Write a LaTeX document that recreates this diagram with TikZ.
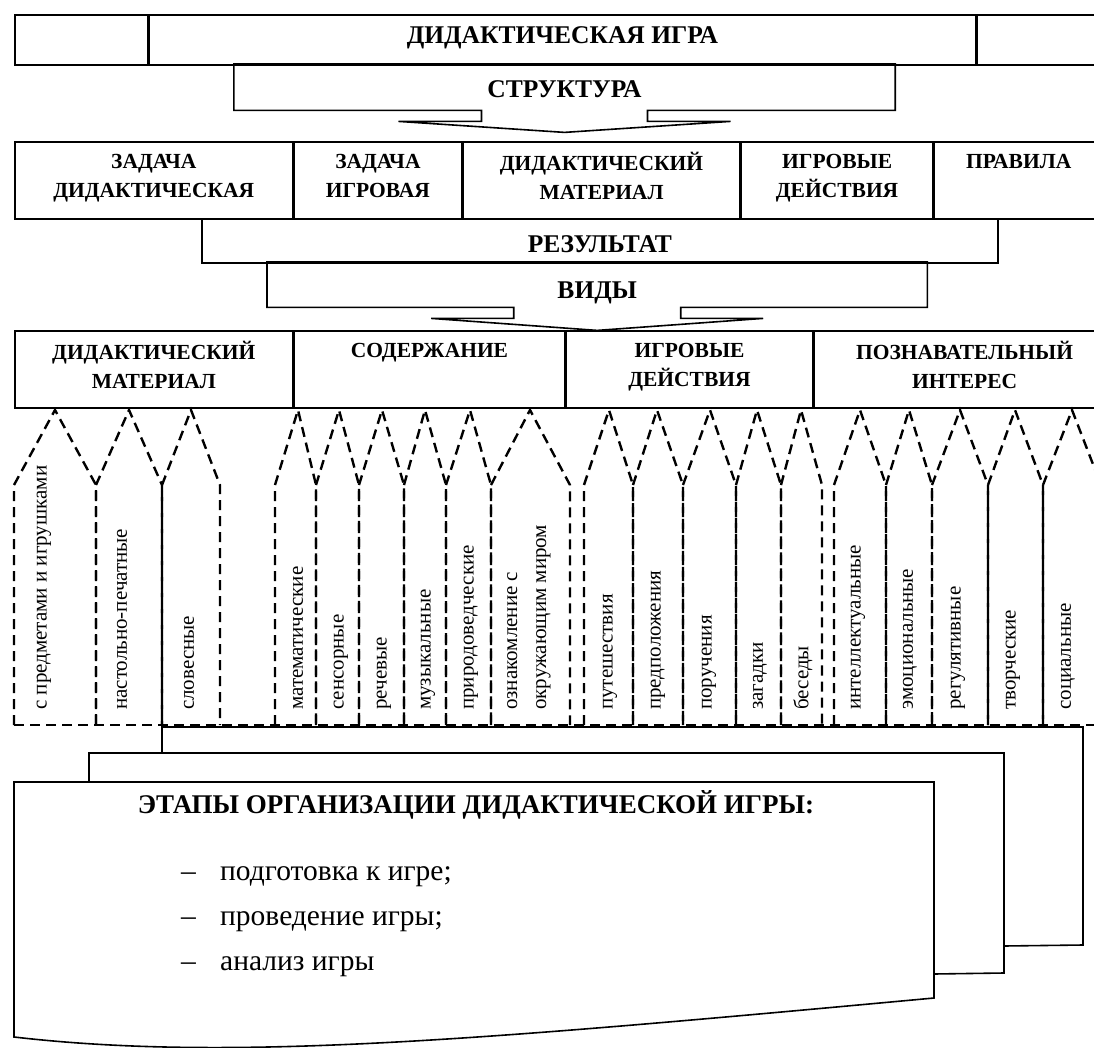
\documentclass[tikz,border=0pt]{standalone}
\usepackage{fontspec}
\setmainfont{Liberation Serif}
\usetikzlibrary{positioning,calc}

\begin{document}
\begin{tikzpicture}[x = 1pt, y = -1pt, line join = miter,
                    frame/.style  = {draw, line width = 1.6pt},
                    top/.style    = {rectangle,
                                     draw,
                                     line width = 1.6pt,
                                     inner sep = 0pt,
                                     minimum height = 50pt,
                                     text height = 8pt,
                                     text depth = 0pt,
                                     font = \fontsize{25.5}{29}\selectfont\bfseries},
                    head/.style   = {rectangle,
                                     inner sep = 0pt,
                                     text depth = 0pt,
                                     font = \fontsize{25.5}{29}\selectfont\bfseries},
                    cell/.style   = {rectangle,
                                     draw,
                                     line width = 1.6pt,
                                     inner sep = 0pt,
                                     minimum height = 77pt,
                                     align = center,
                                     execute at begin node = \strut,
                                     execute at end node = \strut,
                                     font = \fontsize{21.5}{29}\selectfont\bfseries},
                    pencil/.style = {draw, line width = 2.4pt,
                                     dash pattern = on 10pt off 6pt},
                    kind/.style   = {rotate = 90, anchor = west,
                                     inner sep = 0pt, align = left,
                                     font = \fontsize{21}{29}\selectfont},
                    sheet/.style  = {draw, fill = white, line width = 1.6pt},
                    stage/.style  = {anchor = base west, inner sep = 0pt,
                                     font = \fontsize{29.5}{34}\selectfont}]

\useasboundingbox (0,0) rectangle (1094,1048);
\clip (0,0) rectangle (1094,1048);

\node[top, minimum width = 133pt, anchor = north west] (game-l) at (14,14) {};
\node[top, minimum width = 826pt, right = 0pt of game-l] (game) {ДИДАКТИЧЕСКАЯ ИГРА};
\node[top, minimum width = 133pt, right = 0pt of game] (game-r) {};

\node[head, minimum width = 661pt, minimum height = 46pt, text height = 20pt,
      anchor = north] (struct) at (564.5,64) {СТРУКТУРА};
\draw[frame] ($(struct.south)+(-83,0)$) -- (struct.south west) -- (struct.north west)
      -- (struct.north east) -- (struct.south east) -- ($(struct.south)+(83,0)$)
      -- ++(0,11) -- ++(83,0) -- ($(struct.south)+(0,22)$) -- ++(-166,-11)
      -- ++(83,0) -- cycle;

\node[cell, minimum width = 278pt, anchor = north west] (task-d) at (14,141) {ЗАДАЧА\\ДИДАКТИЧЕСКАЯ};
\node[cell, minimum width = 167pt, right = 0pt of task-d] (task-g) {ЗАДАЧА\\ИГРОВАЯ};
\node[cell, minimum width = 277pt, right = 0pt of task-g] (mat) {ДИДАКТИЧЕСКИЙ\\МАТЕРИАЛ};
\node[cell, minimum width = 191pt, right = 0pt of mat] (act) {ИГРОВЫЕ\\ДЕЙСТВИЯ};
\node[cell, minimum width = 169pt, right = 0pt of act] (rules) {ПРАВИЛА\\\mbox{}};

\node[head, draw, line width = 1.6pt, minimum width = 796pt, minimum height = 44pt,
      text height = 24pt, anchor = north west] (result) at (201,218) {РЕЗУЛЬТАТ};

\node[head, minimum width = 660pt, minimum height = 45pt, text height = 27pt,
      anchor = north west] (kinds) at (267,262) {ВИДЫ};
\draw[frame] ($(kinds.south)+(-83.5,0)$) -- (kinds.south west) -- (kinds.north west)
      -- (kinds.north east) -- (kinds.south east) -- ($(kinds.south)+(83.5,0)$)
      -- ++(0,11) -- ++(82.5,0) -- ($(kinds.south)+(0,23)$) -- ++(-166,-12)
      -- ++(82.5,0) -- cycle;

\node[cell, minimum width = 278pt, anchor = north west] (v-mat) at (14,330) {ДИДАКТИЧЕСКИЙ\\МАТЕРИАЛ};
\node[cell, minimum width = 270pt, right = 0pt of v-mat] (v-cont) {СОДЕРЖАНИЕ\\\mbox{}};
\node[cell, minimum width = 247pt, right = 0pt of v-cont] (v-act) {ИГРОВЫЕ\\ДЕЙСТВИЯ};
\node[cell, minimum width = 300pt, right = 0pt of v-act] (v-int) {ПОЗНАВАТЕЛЬНЫЙ\\ИНТЕРЕС};

\draw[sheet] (162,760) -- (162,727) -- (1083,727) -- (1083,945) -- (1004,946);
\draw[sheet] (89,974) -- (89,753) -- (1004,753) -- (1004,973) -- (934,974);
\draw[sheet] (14,782) -- (934,782) -- (934,998)
      .. controls (480,1040) and (230,1062) .. (14,1037) -- cycle;

\draw[pencil] (14,725) -- (14,485) -- (55,410) -- (96,485) -- (96,725);
\draw[pencil] (96,725) -- (96,485) -- (129,410) -- (162,485) -- (162,725);
\draw[pencil] (162,725) -- (162,485) -- (191,410) -- (220,485) -- (220,725);

\draw[pencil] (275,725) -- (275,485) -- (298,410) -- (316,485) -- (316,725);
\draw[pencil] (316,725) -- (316,485) -- (339,410) -- (359,485) -- (359,725);
\draw[pencil] (359,725) -- (359,485) -- (382,410) -- (404,485) -- (404,725);
\draw[pencil] (404,725) -- (404,485) -- (425,410) -- (446,485) -- (446,725);
\draw[pencil] (446,725) -- (446,485) -- (470,410) -- (491,485) -- (491,725);
\draw[pencil] (491,725) -- (491,485) -- (530,410) -- (570,485) -- (570,725);

\draw[pencil] (584,725) -- (584,485) -- (609,410) -- (633,485) -- (633,725);
\draw[pencil] (633,725) -- (633,485) -- (657,410) -- (683,485) -- (683,725);
\draw[pencil] (683,725) -- (683,485) -- (710,410) -- (736,485) -- (736,725);
\draw[pencil] (736,725) -- (736,485) -- (757,410) -- (781,485) -- (781,725);
\draw[pencil] (781,725) -- (781,485) -- (801,410) -- (822,485) -- (822,725);

\draw[pencil] (834,725) -- (834,485) -- (860,410) -- (886,485) -- (886,725);
\draw[pencil] (886,725) -- (886,485) -- (909,410) -- (932,485) -- (932,725);
\draw[pencil] (932,725) -- (932,485) -- (960,410) -- (988,485) -- (988,725);
\draw[pencil] (988,725) -- (988,485) -- (1015,410) -- (1043,485) -- (1043,725);
\draw[pencil] (1043,725) -- (1043,485) -- (1072,410) -- (1101,485) -- (1101,725);

\draw[pencil] (14,725) -- (1100,725);

\node[kind] (k-obj)   at (44,710)  {с предметами и игрушками};
\node[kind] (k-board) at (122,710) {настольно-печатные};
\node[kind] (k-word)  at (189,710) {словесные};

\node[kind] (k-math)  at (298,710) {математические};
\node[kind] (k-sens)  at (341,710) {сенсорные};
\node[kind] (k-speak) at (384,710) {речевые};
\node[kind] (k-mus)   at (428,710) {музыкальные};
\node[kind] (k-nat)   at (471,710) {природоведческие};
\node[kind] (k-world) at (529,710) {ознакомление с\\окружающим миром};

\node[kind] (k-trip)  at (610,710) {путешествия};
\node[kind] (k-guess) at (658,710) {предположения};
\node[kind] (k-task)  at (709,710) {поручения};
\node[kind] (k-rid)   at (760,710) {загадки};
\node[kind] (k-talk)  at (803,710) {беседы};

\node[kind] (k-int)   at (858,710)  {интеллектуальные};
\node[kind] (k-emo)   at (910,710)  {эмоциональные};
\node[kind] (k-reg)   at (958,710)  {регулятивные};
\node[kind] (k-cre)   at (1013,710) {творческие};
\node[kind] (k-soc)   at (1068,710) {социальные};

\node[anchor = base, inner sep = 0pt, font = \fontsize{27}{32}\selectfont\bfseries]
      (stages) at (476,813) {ЭТАПЫ ОРГАНИЗАЦИИ ДИДАКТИЧЕСКОЙ ИГРЫ:};
\node[stage] (st-prep) at (181,880) {\makebox[39pt][l]{–}подготовка к игре;};
\node[stage] (st-run)  at (181,925) {\makebox[39pt][l]{–}проведение игры;};
\node[stage] (st-an)   at (181,970) {\makebox[39pt][l]{–}анализ игры};

\end{tikzpicture}
\end{document}
